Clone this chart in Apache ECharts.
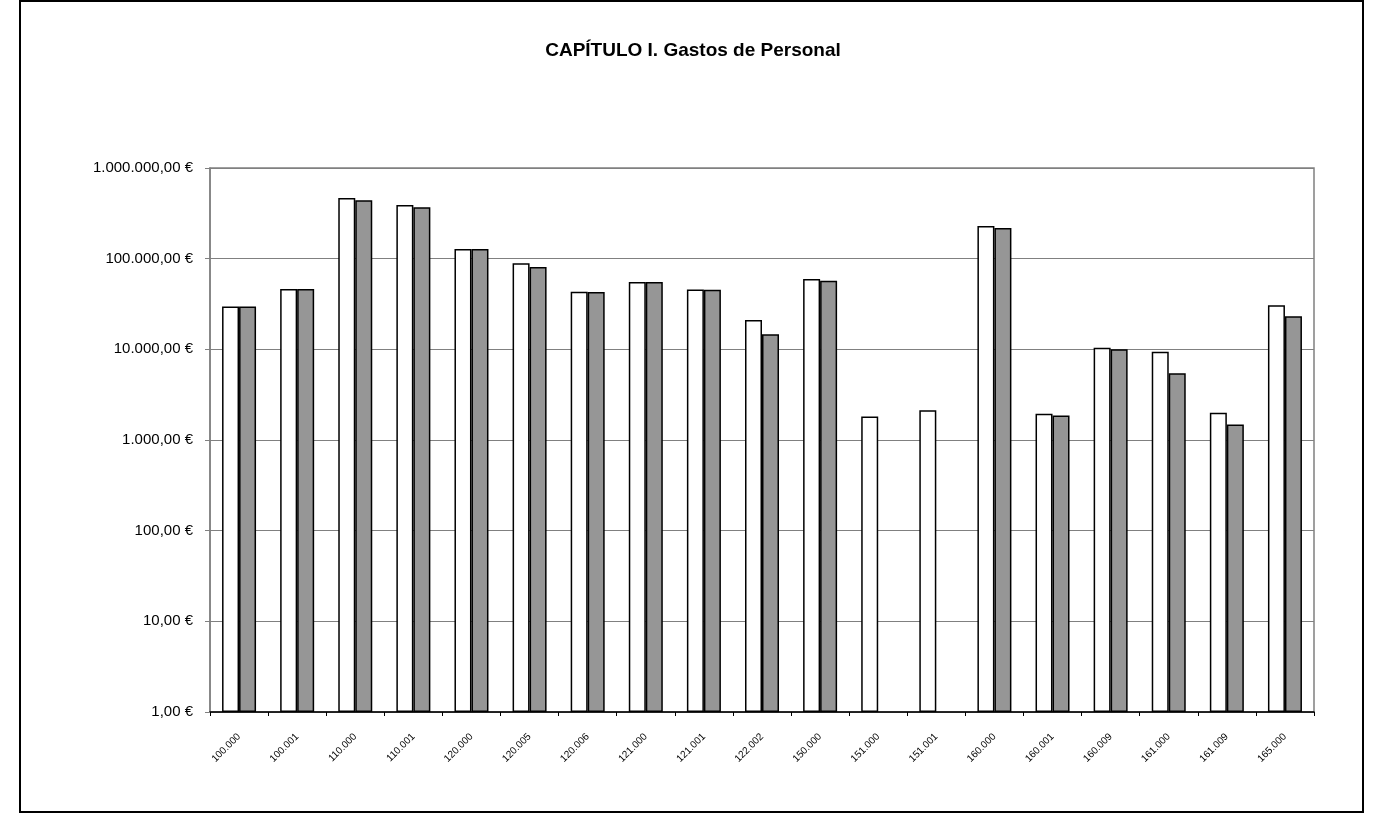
<!DOCTYPE html>
<html>
<head>
<meta charset="utf-8">
<script src="https://cdn.jsdelivr.net/npm/echarts@6/dist/echarts.min.js"></script>
<style>
html,body{margin:0;padding:0;background:#fff;}
#chart{width:1376px;height:814px;}
</style>
</head>
<body>
<div id="chart"></div>
<script>
const titleText = 'CAPÍTULO I. Gastos de Personal';
const categories = ['100.000','100.001','110.000','110.001','120.000','120.005','120.006','121.000','121.001','122.002','150.000','151.000','151.001','160.000','160.001','160.009','161.000','161.009','165.000'];
const seriesA = [29700, 46200, 466000, 391000, 127700, 88800, 43200, 55200, 45800, 21000, 59600, 1816, 2133, 229000, 1946, 10400, 9400, 1995, 30700];
const seriesB = [29700, 46200, 440000, 368000, 127700, 80800, 43000, 55200, 45300, 14700, 57200, null, null, 217500, 1862, 10050, 5460, 1483, 23200];
const yTicks = [1, 10, 100, 1000, 10000, 100000, 1000000];

function fmtEuro(v) {
  const n = Math.round(v);
  const s = String(n).replace(/\B(?=(\d{3})+(?!\d))/g, '.');
  return s + ',00 €';
}

const chart = echarts.init(document.getElementById('chart'));
chart.setOption({
  animation: false,
  backgroundColor: '#ffffff',
  title: {
    text: titleText,
    left: 688,
    top: 36,
    textAlign: 'center',
    textStyle: { fontFamily: 'Liberation Sans, Arial, sans-serif', fontSize: 19, fontWeight: 'bold', color: '#000' }
  },
  graphic: [{
    type: 'rect',
    shape: { x: 20, y: 1, width: 1343, height: 811 },
    style: { fill: 'none', stroke: '#000', lineWidth: 2 },
    silent: true
  }],
  grid: {
    left: 210, right: 62, top: 168, bottom: 102,
    show: true, borderColor: '#808080', borderWidth: 1.5, backgroundColor: 'transparent'
  },
  xAxis: {
    type: 'category',
    data: categories,
    axisLine: { lineStyle: { color: '#000', width: 1.5 } },
    axisTick: { show: true, alignWithLabel: false, length: 4, lineStyle: { color: '#000' } },
    axisLabel: {
      rotate: 45, margin: 23, interval: 0,
      fontFamily: 'Liberation Sans, Arial, sans-serif', fontSize: 10, color: '#000'
    },
    splitLine: { show: false }
  },
  yAxis: {
    type: 'log',
    logBase: 10,
    min: yTicks[0],
    max: yTicks[yTicks.length - 1],
    axisLine: { show: true, lineStyle: { color: '#808080', width: 1.5 } },
    axisTick: { show: true, length: 5, lineStyle: { color: '#808080' } },
    axisLabel: {
      formatter: fmtEuro, margin: 17,
      fontFamily: 'Liberation Sans, Arial, sans-serif', fontSize: 15, color: '#000'
    },
    splitLine: { show: true, lineStyle: { color: '#808080', width: 1 } },
    minorTick: { show: false }
  },
  series: [
    {
      name: 'A', type: 'bar', data: seriesA, barWidth: 17, barGap: '0%',
      itemStyle: { color: '#ffffff', borderColor: '#000', borderWidth: 1.5 }
    },
    {
      name: 'B', type: 'bar', data: seriesB, barWidth: 17, barGap: '0%',
      itemStyle: { color: '#969696', borderColor: '#000', borderWidth: 1.5 }
    }
  ]
});
</script>
</body>
</html>
